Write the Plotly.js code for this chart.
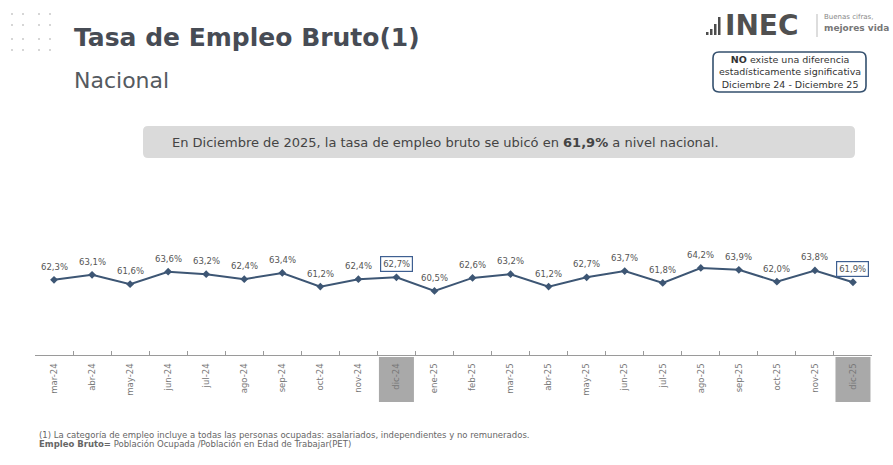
<!DOCTYPE html>
<html><head><meta charset="utf-8">
<script src="https://cdn.plot.ly/plotly-3.0.1.min.js"></script>
<style>html,body{margin:0;padding:0;background:#fff;}#chart{width:893px;height:465px;}</style>
</head><body><div id="chart"></div>
<script>
const months = ["mar-24","abr-24","may-24","jun-24","jul-24","ago-24","sep-24","oct-24","nov-24","dic-24","ene-25","feb-25","mar-25","abr-25","may-25","jun-25","jul-25","ago-25","sep-25","oct-25","nov-25","dic-25"];
const rate = [62.3,63.1,61.6,63.6,63.2,62.4,63.4,61.2,62.4,62.7,60.5,62.6,63.2,61.2,62.7,63.7,61.8,64.2,63.9,62.0,63.8,61.9];
const highlighted = ["dic-24","dic-25"];

const W=893,H=465,L=35,R=21,T=240,B=110;
const PW=W-L-R, PH=H-T-B;
const px=x=>(x-L)/PW, py=y=>(H-B-y)/PH;
function rr(x0,y0,x1,y1,r){
  const X=px, Y=py;
  return `M${X(x0+r)},${Y(y0)} L${X(x1-r)},${Y(y0)} Q${X(x1)},${Y(y0)} ${X(x1)},${Y(y0+r)} L${X(x1)},${Y(y1-r)} Q${X(x1)},${Y(y1)} ${X(x1-r)},${Y(y1)} L${X(x0+r)},${Y(y1)} Q${X(x0)},${Y(y1)} ${X(x0)},${Y(y1-r)} L${X(x0)},${Y(y0+r)} Q${X(x0)},${Y(y0)} ${X(x0+r)},${Y(y0)} Z`;
}
const fmt=v=>v.toFixed(1).replace('.',',')+'%';
const FONT="DejaVu Sans";

const shapes=[];
[12,23,39,50].forEach(x=>[14,25,39,50].forEach(y=>{
  shapes.push({type:'circle',xref:'paper',yref:'paper',x0:px(x-1),x1:px(x+1),y0:py(y+1),y1:py(y-1),fillcolor:'#c8c8c8',line:{width:0}});
}));
shapes.push({type:'path',xref:'paper',yref:'paper',path:rr(143,126,855,158,5),fillcolor:'#dadada',line:{width:0},layer:'below'});
shapes.push({type:'path',xref:'paper',yref:'paper',path:rr(713,52,866,92,6),fillcolor:'rgba(0,0,0,0)',line:{color:'#34506e',width:1.6}});
[[706,3],[710,6],[714,11],[718,18]].forEach(([x,h])=>{
  shapes.push({type:'rect',xref:'paper',yref:'paper',x0:px(x),x1:px(x+2.5),y0:py(35),y1:py(35-h),fillcolor:'#4d4d4d',line:{width:0}});
});
shapes.push({type:'line',xref:'paper',yref:'paper',x0:px(817),x1:px(817),y0:py(14),y1:py(37),line:{color:'#bbbbbb',width:1}});
highlighted.forEach(m=>{
  const i=months.indexOf(m);
  shapes.push({type:'rect',xref:'x',yref:'paper',x0:i-0.46,x1:i+0.46,y0:py(402),y1:py(357),fillcolor:'#a9a9a9',line:{width:0},layer:'below'});
});

const annotations=[];
months.forEach((m,i)=>{
  const hl=highlighted.includes(m);
  annotations.push({x:m,y:rate[i],xref:'x',yref:'y',text:fmt(rate[i]),showarrow:false,yshift:13,
    font:{family:FONT,size:8.5,color:'#555'},
    bordercolor:hl?'#3e5f91':'rgba(0,0,0,0)',borderwidth:hl?1.2:0,borderpad:hl?2:0,bgcolor:'rgba(0,0,0,0)'});
});
const pa=(x,y,text,font,xanchor='left',extra={})=>annotations.push(Object.assign({xref:'paper',yref:'paper',x:px(x),y:py(y),text,showarrow:false,xanchor,yanchor:'middle',font},extra));
pa(72,37,'<b>Tasa de Empleo Bruto(1)</b>',{family:FONT,size:25,color:'#474c55'});
pa(72,80,'Nacional',{family:FONT,size:22,color:'#555a60'});
pa(723,25,'<b>INEC</b>',{family:'DejaVu Sans',size:28,color:'#505050'});
pa(822,17,'Buenas cifras,',{family:FONT,size:7,color:'#888'});
pa(822,28,'<b>mejores vida</b>',{family:FONT,size:9,color:'#777'});
pa(789.5,72,'<b>NO</b> existe una diferencia<br>estadísticamente significativa<br>Diciembre 24 - Diciembre 25',{family:FONT,size:9.5,color:'#333'},'center');
pa(445,142,'En Diciembre de 2025, la tasa de empleo bruto se ubicó en <b>61,9%</b> a nivel nacional.',{family:FONT,size:13,color:'#444'},'center');
pa(37,435,'(1) La categoría de empleo incluye a todas las personas ocupadas: asalariados, independientes y no remunerados.',{family:FONT,size:8.5,color:'#666'});
pa(37,444,'<b>Empleo Bruto=</b> Población Ocupada /Población en Edad de Trabajar(PET)',{family:FONT,size:8.5,color:'#666'});

const trace={x:months,y:rate,type:'scatter',mode:'lines+markers',
  line:{color:'#3d5674',width:2},marker:{symbol:'diamond',size:6,color:'#3d5674'},hoverinfo:'skip'};

const layout={width:W,height:H,margin:{l:L,r:R,t:T,b:B,pad:0},paper_bgcolor:'#fff',plot_bgcolor:'rgba(0,0,0,0)',
  showlegend:false,
  xaxis:{type:'category',showgrid:false,zeroline:false,showline:true,linecolor:'#9a9a9a',linewidth:1,
    ticks:'inside',ticklen:4,tickcolor:'#9a9a9a',tickson:'boundaries',tickangle:-90,ticklabelstandoff:4,
    tickfont:{family:FONT,size:8.5,color:'#777'},range:[-0.5,21.5]},
  yaxis:{range:[50.2,68.7],visible:false,showgrid:false,zeroline:false},
  shapes,annotations};
Plotly.newPlot('chart',[trace],layout,{displayModeBar:false,staticPlot:true});
</script></body></html>
